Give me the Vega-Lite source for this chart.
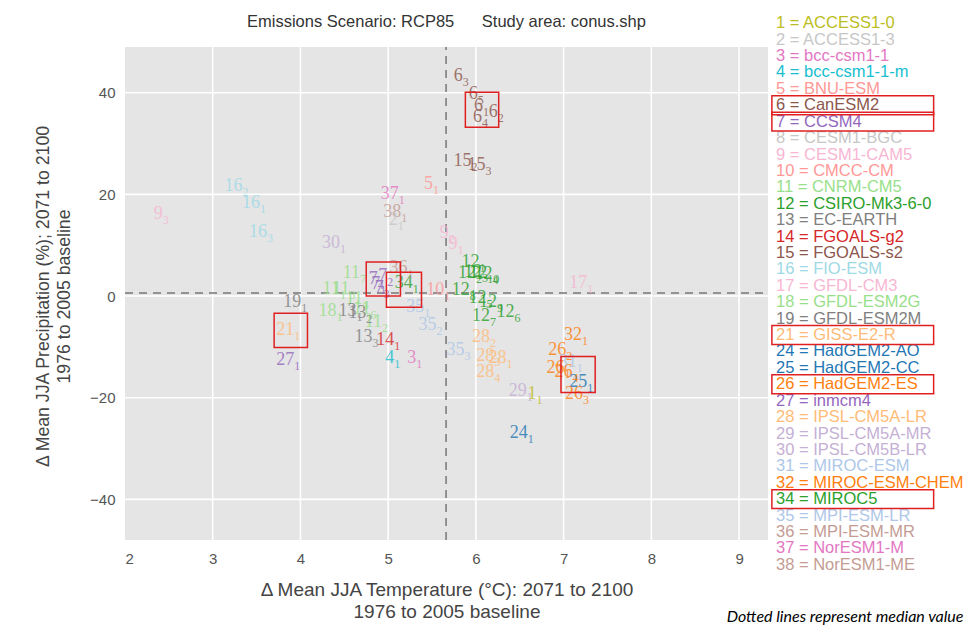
{
  "$schema": "https://vega.github.io/schema/vega-lite/v6.json",
  "background": "white",
  "padding": {"left": 34, "top": 13, "right": 0, "bottom": 0},
  "config": {"view": {"stroke": null}, "font": "Liberation Sans", "concat": {"spacing": -43}},
  "datasets": {
    "runs": [
      {"m":"9","r":"3","t":2.43,"p":16.2},
      {"m":"16","r":"2","t":3.34,"p":21.7},
      {"m":"16","r":"1","t":3.54,"p":18.4},
      {"m":"16","r":"3","t":3.62,"p":12.6},
      {"m":"37","r":"1","t":5.12,"p":20.0},
      {"m":"38","r":"1","t":5.15,"p":16.6},
      {"m":"2","r":"1","t":5.11,"p":15.0},
      {"m":"5","r":"1","t":5.51,"p":22.1},
      {"m":"30","r":"1","t":4.45,"p":10.5},
      {"m":"6","r":"3","t":5.85,"p":43.3},
      {"m":"6","r":"5","t":6.02,"p":39.7},
      {"m":"6","r":"1","t":6.08,"p":37.4},
      {"m":"6","r":"2","t":6.25,"p":36.2},
      {"m":"6","r":"4","t":6.07,"p":35.2},
      {"m":"15","r":"2","t":5.95,"p":26.5},
      {"m":"15","r":"3","t":6.11,"p":25.7},
      {"m":"9","r":"2","t":5.69,"p":12.5},
      {"m":"9","r":"1","t":5.79,"p":10.3},
      {"m":"12","r":"1","t":6.04,"p":6.7},
      {"m":"12","r":"2","t":6.0,"p":4.5},
      {"m":"12","r":"3","t":6.07,"p":4.7},
      {"m":"12","r":"10","t":6.13,"p":4.5},
      {"m":"12","r":"4","t":6.19,"p":4.3},
      {"m":"12","r":"8","t":5.93,"p":1.2},
      {"m":"12","r":"5","t":6.12,"p":-0.4},
      {"m":"12","r":"9","t":6.24,"p":-1.2},
      {"m":"12","r":"6","t":6.44,"p":-3.2},
      {"m":"12","r":"7","t":6.16,"p":-4.0},
      {"m":"17","r":"1","t":7.27,"p":2.6},
      {"m":"10","r":"1","t":5.64,"p":1.2},
      {"m":"35","r":"3","t":5.87,"p":-10.7},
      {"m":"28","r":"2","t":6.16,"p":-8.1},
      {"m":"28","r":"3","t":6.21,"p":-11.7},
      {"m":"28","r":"1","t":6.35,"p":-12.1},
      {"m":"28","r":"4","t":6.21,"p":-15.0},
      {"m":"29","r":"1","t":6.58,"p":-18.6},
      {"m":"1","r":"1","t":6.69,"p":-19.2},
      {"m":"24","r":"1","t":6.59,"p":-26.9},
      {"m":"32","r":"1","t":7.21,"p":-7.7},
      {"m":"26","r":"2","t":7.03,"p":-10.7},
      {"m":"31","r":"1","t":7.15,"p":-13.0},
      {"m":"26","r":"1","t":7.01,"p":-14.2},
      {"m":"26","r":"4","t":7.1,"p":-14.9},
      {"m":"25","r":"1","t":7.27,"p":-17.0},
      {"m":"26","r":"3","t":7.22,"p":-19.2},
      {"m":"11","r":"7","t":4.68,"p":4.5},
      {"m":"11","r":"1","t":4.45,"p":1.4},
      {"m":"11","r":"3","t":4.56,"p":1.4},
      {"m":"11","r":"4","t":4.71,"p":-0.6},
      {"m":"11","r":"6","t":4.8,"p":-2.6},
      {"m":"11","r":"2","t":4.93,"p":-5.1},
      {"m":"18","r":"1","t":4.41,"p":-3.0},
      {"m":"13","r":"1","t":4.64,"p":-3.0},
      {"m":"13","r":"2","t":4.75,"p":-3.4},
      {"m":"13","r":"3","t":4.82,"p":-8.1},
      {"m":"14","r":"1","t":5.07,"p":-8.7},
      {"m":"4","r":"1","t":5.07,"p":-12.1},
      {"m":"3","r":"1","t":5.32,"p":-12.1},
      {"m":"35","r":"2","t":5.55,"p":-5.7},
      {"m":"35","r":"1","t":5.41,"p":-2.2},
      {"m":"36","r":"1","t":5.22,"p":5.5},
      {"m":"7","r":"1","t":4.91,"p":2.4},
      {"m":"7","r":"2","t":4.99,"p":4.0},
      {"m":"7","r":"3","t":4.95,"p":1.6},
      {"m":"7","r":"4","t":4.88,"p":3.4},
      {"m":"34","r":"1","t":5.28,"p":2.6},
      {"m":"19","r":"1","t":4.01,"p":-1.2},
      {"m":"21","r":"1","t":3.93,"p":-6.7},
      {"m":"27","r":"1","t":3.93,"p":-12.6}
    ],
    "panel": [{"x1": 2, "x2": 9.33, "y1": -48, "y2": 49}],
    "gridT": [{"g": 3}, {"g": 4}, {"g": 5}, {"g": 6}, {"g": 7}, {"g": 8}, {"g": 9}],
    "gridP": [{"g": -40}, {"g": -20}, {"g": 0}, {"g": 20}, {"g": 40}],
    "medT": [{"v": 5.66}],
    "medP": [{"v": 0.6}],
    "boxes": [
      {"x1": 5.88, "x2": 6.26, "y1": 40.1, "y2": 33.2},
      {"x1": 4.75, "x2": 5.14, "y1": 6.7, "y2": 0.0},
      {"x1": 4.98, "x2": 5.38, "y1": 4.7, "y2": -2.2},
      {"x1": 3.70, "x2": 4.08, "y1": -3.4, "y2": -10.1},
      {"x1": 6.97, "x2": 7.36, "y1": -11.9, "y2": -19.0}
    ],
    "models": [
      {"id":"1","label":"1 = ACCESS1-0"},
      {"id":"2","label":"2 = ACCESS1-3"},
      {"id":"3","label":"3 = bcc-csm1-1"},
      {"id":"4","label":"4 = bcc-csm1-1-m"},
      {"id":"5","label":"5 = BNU-ESM"},
      {"id":"6","label":"6 = CanESM2"},
      {"id":"7","label":"7 = CCSM4"},
      {"id":"8","label":"8 = CESM1-BGC"},
      {"id":"9","label":"9 = CESM1-CAM5"},
      {"id":"10","label":"10 = CMCC-CM"},
      {"id":"11","label":"11 = CNRM-CM5"},
      {"id":"12","label":"12 = CSIRO-Mk3-6-0"},
      {"id":"13","label":"13 = EC-EARTH"},
      {"id":"14","label":"14 = FGOALS-g2"},
      {"id":"15","label":"15 = FGOALS-s2"},
      {"id":"16","label":"16 = FIO-ESM"},
      {"id":"17","label":"17 = GFDL-CM3"},
      {"id":"18","label":"18 = GFDL-ESM2G"},
      {"id":"19","label":"19 = GFDL-ESM2M"},
      {"id":"21","label":"21 = GISS-E2-R"},
      {"id":"24","label":"24 = HadGEM2-AO"},
      {"id":"25","label":"25 = HadGEM2-CC"},
      {"id":"26","label":"26 = HadGEM2-ES"},
      {"id":"27","label":"27 = inmcm4"},
      {"id":"28","label":"28 = IPSL-CM5A-LR"},
      {"id":"29","label":"29 = IPSL-CM5A-MR"},
      {"id":"30","label":"30 = IPSL-CM5B-LR"},
      {"id":"31","label":"31 = MIROC-ESM"},
      {"id":"32","label":"32 = MIROC-ESM-CHEM"},
      {"id":"34","label":"34 = MIROC5"},
      {"id":"35","label":"35 = MPI-ESM-LR"},
      {"id":"36","label":"36 = MPI-ESM-MR"},
      {"id":"37","label":"37 = NorESM1-M"},
      {"id":"38","label":"38 = NorESM1-ME"}
    ],
    "highlighted": [{"id":"6"},{"id":"7"},{"id":"21"},{"id":"26"},{"id":"34"}]
  },
  "hconcat": [
    {
      "width": 643,
      "height": 525,
      "title": {"text": "Emissions Scenario: RCP85\u00a0\u00a0\u00a0\u00a0\u00a0\u00a0Study area: conus.shp", "fontSize": 16.5, "fontWeight": "normal", "color": "#333", "offset": -15, "font": "Liberation Sans", "anchor": "middle"},
      "layer": [
        {
          "data": {"name": "panel"},
          "mark": {"type": "rect", "color": "#e5e5e5"},
          "encoding": {
            "x": {"field": "x1", "type": "quantitative", "scale": {"domain": [2, 9.33], "nice": false, "zero": false},
              "axis": {"values": [2,3,4,5,6,7,8,9], "format": "d", "grid": false, "ticks": false, "domain": false,
                "labelFontSize": 15, "labelColor": "#555", "labelPadding": 11, "labelFont": "Liberation Sans",
                "title": ["Δ Mean JJA Temperature (°C): 2071 to 2100", "1976 to 2005 baseline"],
                "titleFontSize": 19, "titleFontWeight": "normal", "titleColor": "#444", "titlePadding": 14, "titleFont": "Liberation Sans", "titleLineHeight": 22}},
            "x2": {"field": "x2"},
            "y": {"field": "y1", "type": "quantitative", "scale": {"domain": [-48, 55.3], "nice": false, "zero": false},
              "axis": {"values": [-40,-20,0,20,40], "grid": false, "ticks": false, "domain": false,
                "labelFontSize": 15, "labelColor": "#555", "labelPadding": 10, "labelFont": "Liberation Sans",
                "title": ["Δ Mean JJA Precipitation (%); 2071 to 2100", "1976 to 2005 baseline"],
                "titleFontSize": 17.7, "titleFontWeight": "normal", "titleColor": "#444", "titlePadding": 16, "titleFont": "Liberation Sans", "titleLineHeight": 21, "titleY": 281}},
            "y2": {"field": "y2"}
          }
        },
        {
          "data": {"name": "gridT"},
          "mark": {"type": "rule", "color": "white", "strokeWidth": 1.6},
          "encoding": {
            "x": {"field": "g", "type": "quantitative"},
            "y": {"datum": -48, "type": "quantitative"},
            "y2": {"datum": 49}
          }
        },
        {
          "data": {"name": "gridP"},
          "mark": {"type": "rule", "color": "white", "strokeWidth": 1.6},
          "encoding": {
            "y": {"field": "g", "type": "quantitative"},
            "x": {"datum": 2, "type": "quantitative"},
            "x2": {"datum": 9.33}
          }
        },
        {
          "data": {"name": "medT"},
          "mark": {"type": "rule", "color": "#777", "strokeDash": [8, 6], "strokeWidth": 1.5},
          "encoding": {
            "x": {"field": "v", "type": "quantitative"},
            "y": {"datum": -48, "type": "quantitative"},
            "y2": {"datum": 49}
          }
        },
        {
          "data": {"name": "medP"},
          "mark": {"type": "rule", "color": "#777", "strokeDash": [8, 6], "strokeWidth": 1.5},
          "encoding": {
            "y": {"field": "v", "type": "quantitative"},
            "x": {"datum": 2, "type": "quantitative"},
            "x2": {"datum": 9.33}
          }
        },
        {
          "data": {"name": "runs"},
          "mark": {"type": "text", "align": "right", "baseline": "middle", "font": "Liberation Serif", "fontSize": 18, "opacity": 0.8},
          "encoding": {
            "x": {"field": "t", "type": "quantitative"},
            "y": {"field": "p", "type": "quantitative"},
            "text": {"field": "m"},
            "color": {"field": "m", "type": "nominal", "legend": null,
              "scale": {"domain": ["1","2","3","4","5","6","7","8","9","10","11","12","13","14","15","16","17","18","19","21","24","25","26","27","28","29","30","31","32","34","35","36","37","38"],
                "range": ["#bcbd22","#c7c7c7","#e377c2","#17becf","#ff9896","#8c564b","#9467bd","#c7c7c7","#f7b6d2","#ff9896","#98df8a","#2ca02c","#7f7f7f","#d62728","#8c564b","#9edae5","#f7b6d2","#98df8a","#7f7f7f","#ffbb78","#1f77b4","#1f77b4","#ff7f0e","#9467bd","#ffbb78","#c5b0d5","#c5b0d5","#aec7e8","#ff7f0e","#2ca02c","#aec7e8","#c49c94","#e377c2","#c49c94"]}}
          }
        },
        {
          "data": {"name": "runs"},
          "mark": {"type": "text", "align": "left", "baseline": "middle", "font": "Liberation Serif", "fontSize": 12, "dy": 6, "opacity": 0.8},
          "encoding": {
            "x": {"field": "t", "type": "quantitative"},
            "y": {"field": "p", "type": "quantitative"},
            "text": {"field": "r"},
            "color": {"field": "m", "type": "nominal", "legend": null}
          }
        },
        {
          "data": {"name": "boxes"},
          "mark": {"type": "rect", "fillOpacity": 0, "stroke": "#e02020", "strokeWidth": 1.5},
          "encoding": {
            "x": {"field": "x1", "type": "quantitative"},
            "x2": {"field": "x2"},
            "y": {"field": "y1", "type": "quantitative"},
            "y2": {"field": "y2"}
          }
        }
      ]
    },
    {
      "width": 187,
      "height": 558,
      "data": {"name": "models"},
      "title": {"text": "Dotted lines represent median value", "orient": "bottom", "anchor": "end", "fontStyle": "italic", "fontWeight": "normal", "fontSize": 16, "font": "Lato", "color": "black", "offset": 36},
      "layer": [
        {
          "mark": {"type": "text", "align": "left", "baseline": "middle", "fontSize": 16.5, "font": "Liberation Sans"},
          "encoding": {
            "y": {"field": "id", "type": "ordinal", "sort": null, "axis": null, "scale": {"paddingInner": 0, "paddingOuter": 0}},
            "x": {"datum": 0, "type": "quantitative", "scale": {"domain": [0, 1], "nice": false, "zero": false}, "axis": null},
            "text": {"field": "label"},
            "color": {"field": "id", "type": "nominal", "legend": null,
              "scale": {"domain": ["1","2","3","4","5","6","7","8","9","10","11","12","13","14","15","16","17","18","19","21","24","25","26","27","28","29","30","31","32","34","35","36","37","38"],
                "range": ["#bcbd22","#c7c7c7","#e377c2","#17becf","#ff9896","#8c564b","#9467bd","#c7c7c7","#f7b6d2","#ff9896","#98df8a","#2ca02c","#7f7f7f","#d62728","#8c564b","#9edae5","#f7b6d2","#98df8a","#7f7f7f","#ffbb78","#1f77b4","#1f77b4","#ff7f0e","#9467bd","#ffbb78","#c5b0d5","#c5b0d5","#aec7e8","#ff7f0e","#2ca02c","#aec7e8","#c49c94","#e377c2","#c49c94"]}}
          }
        },
        {
          "data": {"name": "highlighted"},
          "mark": {"type": "rect", "fillOpacity": 0, "stroke": "#e02020", "strokeWidth": 1.5, "height": {"band": 1.15}},
          "encoding": {
            "y": {"field": "id", "type": "ordinal", "sort": null},
            "x": {"datum": -0.022, "type": "quantitative"},
            "x2": {"datum": 0.843}
          }
        }
      ]
    }
  ]
}
